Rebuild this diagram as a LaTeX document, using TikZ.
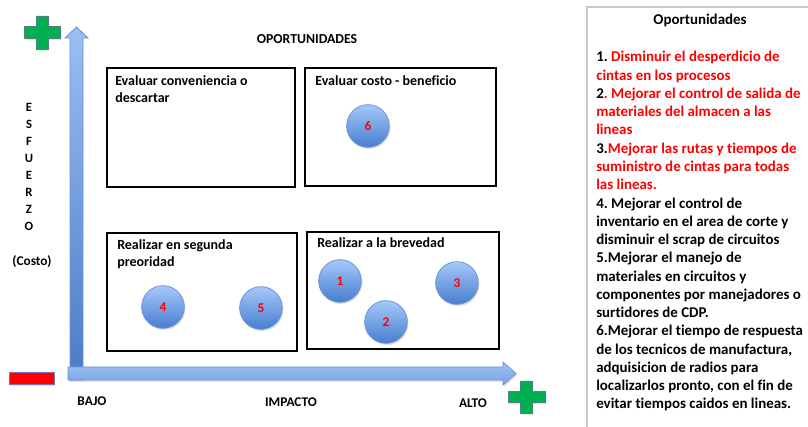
\documentclass[tikz,border=0pt]{standalone}
\usepackage{fontspec}
\setmainfont{Carlito}[Ligatures=NoCommon]
\usetikzlibrary{shadows}
\frenchspacing
\definecolor{circtop}{RGB}{165,200,250}
\definecolor{circbot}{RGB}{72,126,206}
\definecolor{circline}{RGB}{110,150,215}
\definecolor{arrline}{RGB}{108,147,208}
\definecolor{arrlight}{RGB}{155,190,244}
\definecolor{arrdark}{RGB}{74,124,196}
\definecolor{harrtop}{RGB}{160,194,246}
\definecolor{harrbot}{RGB}{120,162,228}
\definecolor{plusgreen}{RGB}{0,176,80}
\definecolor{plusline}{RGB}{80,130,130}
\definecolor{minusline}{RGB}{120,120,175}
\definecolor{panelline}{RGB}{200,200,200}
\definecolor{txtred}{RGB}{255,0,0}
\begin{document}
\begin{tikzpicture}[x=0.75pt,y=-0.75pt,
  quad/.style={draw=black,line width=1.9pt},
  qtext/.style={anchor=base west,inner sep=0pt,font=\fontsize{10.5}{12.75}\selectfont\bfseries,align=left},
  lbl/.style={anchor=base,inner sep=0pt,font=\fontsize{10}{12.75}\selectfont\bfseries,align=center},
  circ/.style={circle,minimum size=32pt,inner sep=0pt,draw=circline,line width=0.6pt,
    top color=circtop,bottom color=circbot,
    drop shadow={shadow xshift=0.8pt,shadow yshift=-1.2pt,opacity=0.25},
    font=\fontsize{10}{12}\selectfont\bfseries,text=txtred},
  vaxis/.style={draw=arrline,line width=0.6pt,top color=arrlight,bottom color=arrdark},
  haxis/.style={draw=arrline,line width=0.6pt,top color=harrtop,bottom color=harrbot,
    drop shadow={shadow xshift=0.8pt,shadow yshift=-1.5pt,opacity=0.25}},
  plusshape/.style={draw=plusline,line width=0.6pt,fill=plusgreen,
    drop shadow={shadow xshift=0.8pt,shadow yshift=-1.2pt,opacity=0.25}},
  minusshape/.style={draw=minusline,line width=0.6pt,fill=red,
    drop shadow={shadow xshift=0.8pt,shadow yshift=-1.2pt,opacity=0.25}},
  paneltext/.style={anchor=base west,inner sep=0pt,font=\fontsize{11.2}{13.7}\selectfont\bfseries,align=left}
]
\useasboundingbox[fill=white] (0,0) rectangle (808,427);

% right panel
\draw[panelline,line width=0.8pt] (587,427) -- (587,7) -- (808,7);
\node[anchor=base,inner sep=0pt,font=\fontsize{11.2}{13.7}\selectfont\bfseries] (ptitle) at (700,25) {Oportunidades};
\node[paneltext] (plist) at (596,409) {%
1. \textcolor{txtred}{Disminuir el desperdicio de}\\
\textcolor{txtred}{cintas en los procesos}\\
2\textcolor{txtred}{. Mejorar el control de salida de}\\
\textcolor{txtred}{materiales del almacen a las}\\
\textcolor{txtred}{lineas}\\
3.\textcolor{txtred}{Mejorar las rutas y tiempos de}\\
\textcolor{txtred}{suministro de cintas para todas}\\
\textcolor{txtred}{las lineas.}\\
4. Mejorar el control de\\
inventario en el area de corte y\\
disminuir el scrap de circuitos\\
5.Mejorar el manejo de\\
materiales en circuitos y\\
componentes por manejadores o\\
surtidores de CDP.\\
6.Mejorar el tiempo de respuesta\\
de los tecnicos de manufactura,\\
adquisicion de radios para\\
localizarlos pronto, con el fin de\\
evitar tiempos caidos en lineas.};

% title
\node[lbl,font=\fontsize{10.3}{12.75}\selectfont\bfseries] (title) at (307,44) {OPORTUNIDADES};

% quadrants
\draw[quad] (107,68) rectangle (295,187);
\draw[quad] (305,68) rectangle (496,186);
\draw[quad] (107,233) rectangle (297,351);
\draw[quad] (307,232) rectangle (499,349);

\node[qtext] (tl) at (115,103) {Evaluar conveniencia o\\descartar};
\node[qtext] (tr) at (315,86) {Evaluar costo - beneficio};
\node[qtext] (bl) at (117,267) {Realizar en segunda\\preoridad};
\node[qtext] (br) at (317,248) {Realizar a la brevedad};

% circles
\node[circ] (c1) at (340,281) {1};
\node[circ] (c2) at (386,322) {2};
\node[circ] (c3) at (457,283) {3};
\node[circ] (c4) at (163,307) {4};
\node[circ] (c5) at (261,308) {5};
\node[circ] (c6) at (368,126) {6};

% axes
\draw[vaxis] (70,380) -- (70,38) -- (65,38) -- (76.5,27) -- (88,38) -- (83,38) -- (83,380) -- cycle;
\draw[haxis] (68,367) -- (503,367) -- (503,362) -- (516,373.5) -- (503,385) -- (503,380) -- (68,380) -- cycle;

% plus / minus signs
\draw[plusshape] (36.8,16) -- ++(11.4,0) -- ++(0,10.8) -- ++(12.3,0) -- ++(0,11.4) -- ++(-12.3,0)
  -- ++(0,10.8) -- ++(-11.4,0) -- ++(0,-10.8) -- ++(-12.3,0) -- ++(0,-11.4) -- ++(12.3,0) -- cycle;
\draw[plusshape] (520.8,381) -- ++(11.4,0) -- ++(0,10.3) -- ++(12.8,0) -- ++(0,11.4) -- ++(-12.8,0)
  -- ++(0,10.3) -- ++(-11.4,0) -- ++(0,-10.3) -- ++(-12.8,0) -- ++(0,-11.4) -- ++(12.8,0) -- cycle;
\draw[minusshape] (9,372) rectangle (54,384);

% axis labels
\node[lbl,font=\fontsize{9.5}{12.75}\selectfont\bfseries] (esf) at (29,231) {E\\S\\F\\U\\E\\R\\Z\\O};
\node[lbl] (costo) at (32,266) {(Costo)};
\node[lbl] (bajo) at (92,406) {BAJO};
\node[lbl] (impacto) at (291,407) {IMPACTO};
\node[lbl] (alto) at (473,408) {ALTO};
\end{tikzpicture}
\end{document}
